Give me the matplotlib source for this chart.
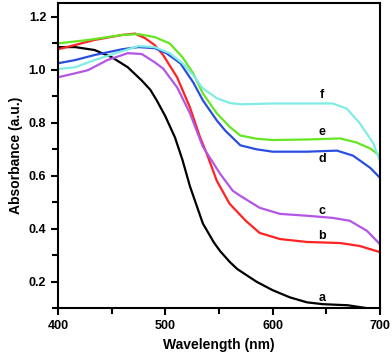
import matplotlib
matplotlib.use("Agg")
import matplotlib.pyplot as plt
from matplotlib.ticker import MultipleLocator

plt.rcParams['font.family'] = ['Liberation Sans', 'DejaVu Sans']

wl_a = [400, 416, 434, 450, 465, 478, 486, 492, 500, 509, 516, 523, 535, 545, 551, 560, 567, 585, 600, 616, 632, 647, 670, 688, 700]
a = [1.086, 1.086, 1.075, 1.048, 1.01, 0.96, 0.925, 0.885, 0.825, 0.745, 0.66, 0.56, 0.42, 0.35, 0.316, 0.275, 0.248, 0.20, 0.168, 0.141, 0.122, 0.115, 0.111, 0.10, 0.096]

wl_b = [400, 416, 434, 460, 472, 481, 490, 498, 511, 523, 532, 539, 548, 560, 575, 588, 607, 632, 663, 681, 700]
b = [1.078, 1.094, 1.113, 1.132, 1.137, 1.12, 1.094, 1.056, 0.972, 0.858, 0.75, 0.68, 0.581, 0.494, 0.43, 0.384, 0.361, 0.35, 0.346, 0.335, 0.312]

wl_c = [400, 416, 428, 446, 465, 478, 490, 498, 511, 523, 535, 551, 563, 570, 588, 607, 632, 656, 672, 688, 700]
c = [0.972, 0.987, 0.999, 1.037, 1.063, 1.06, 1.029, 1.005, 0.934, 0.836, 0.71, 0.608, 0.543, 0.524, 0.479, 0.456, 0.449, 0.441, 0.43, 0.392, 0.342]

wl_d = [400, 416, 434, 460, 475, 490, 501, 514, 526, 535, 548, 556, 570, 585, 600, 632, 660, 675, 691, 700]
d = [1.025, 1.037, 1.056, 1.078, 1.086, 1.082, 1.063, 1.025, 0.953, 0.885, 0.809, 0.77, 0.715, 0.70, 0.691, 0.691, 0.695, 0.676, 0.63, 0.593]

wl_e = [400, 428, 460, 475, 490, 504, 516, 526, 535, 548, 560, 570, 585, 600, 632, 663, 678, 691, 700]
e = [1.10, 1.113, 1.132, 1.135, 1.124, 1.10, 1.048, 0.987, 0.911, 0.836, 0.785, 0.752, 0.74, 0.735, 0.737, 0.741, 0.726, 0.703, 0.676]

wl_f = [400, 416, 434, 460, 475, 490, 504, 516, 526, 535, 548, 560, 570, 600, 632, 656, 669, 681, 694, 700]
f = [1.003, 1.01, 1.037, 1.071, 1.09, 1.086, 1.063, 1.025, 0.98, 0.93, 0.893, 0.875, 0.87, 0.873, 0.873, 0.873, 0.854, 0.80, 0.722, 0.657]

series = [(wl_a, a, '#000000', 'a'), (wl_b, b, '#ff2222', 'b'), (wl_c, c, '#b455e6', 'c'),
          (wl_d, d, '#2a4fe0', 'd'), (wl_e, e, '#66e622', 'e'), (wl_f, f, '#80ece4', 'f')]
label_pos = {'a': 0.137, 'b': 0.373, 'c': 0.468, 'd': 0.665, 'e': 0.764, 'f': 0.904}

fig = plt.figure(figsize=(3.92, 3.60), dpi=100)
ax = fig.add_axes([0.148, 0.144, 0.821, 0.848])
for x, y, col, lab in series:
    ax.plot(x, y, color=col, lw=1.6, solid_capstyle='round', solid_joinstyle='round')
    ax.text(646, label_pos[lab], lab, fontsize=9, fontweight='bold', ha='center', va='center')

ax.set_xlim(400, 700)
ax.set_ylim(0.1, 1.253)
ax.xaxis.set_major_locator(MultipleLocator(100))
ax.xaxis.set_minor_locator(MultipleLocator(50))
ax.yaxis.set_major_locator(MultipleLocator(0.2))
ax.yaxis.set_minor_locator(MultipleLocator(0.1))
ax.set_yticks([0.2, 0.4, 0.6, 0.8, 1.0, 1.2])
ax.tick_params(which='both', direction='out', width=1.5)
ax.tick_params(which='major', length=5, labelsize=9)
ax.tick_params(which='minor', length=4)
for lab in ax.get_xticklabels() + ax.get_yticklabels():
    lab.set_fontweight('bold')
for sp in ax.spines.values():
    sp.set_linewidth(1.5)
ax.set_xlabel('Wavelength (nm)', fontsize=10, fontweight='bold')
ax.set_ylabel('Absorbance (a.u.)', fontsize=10, fontweight='bold')
fig.savefig('out.png', dpi=100)
